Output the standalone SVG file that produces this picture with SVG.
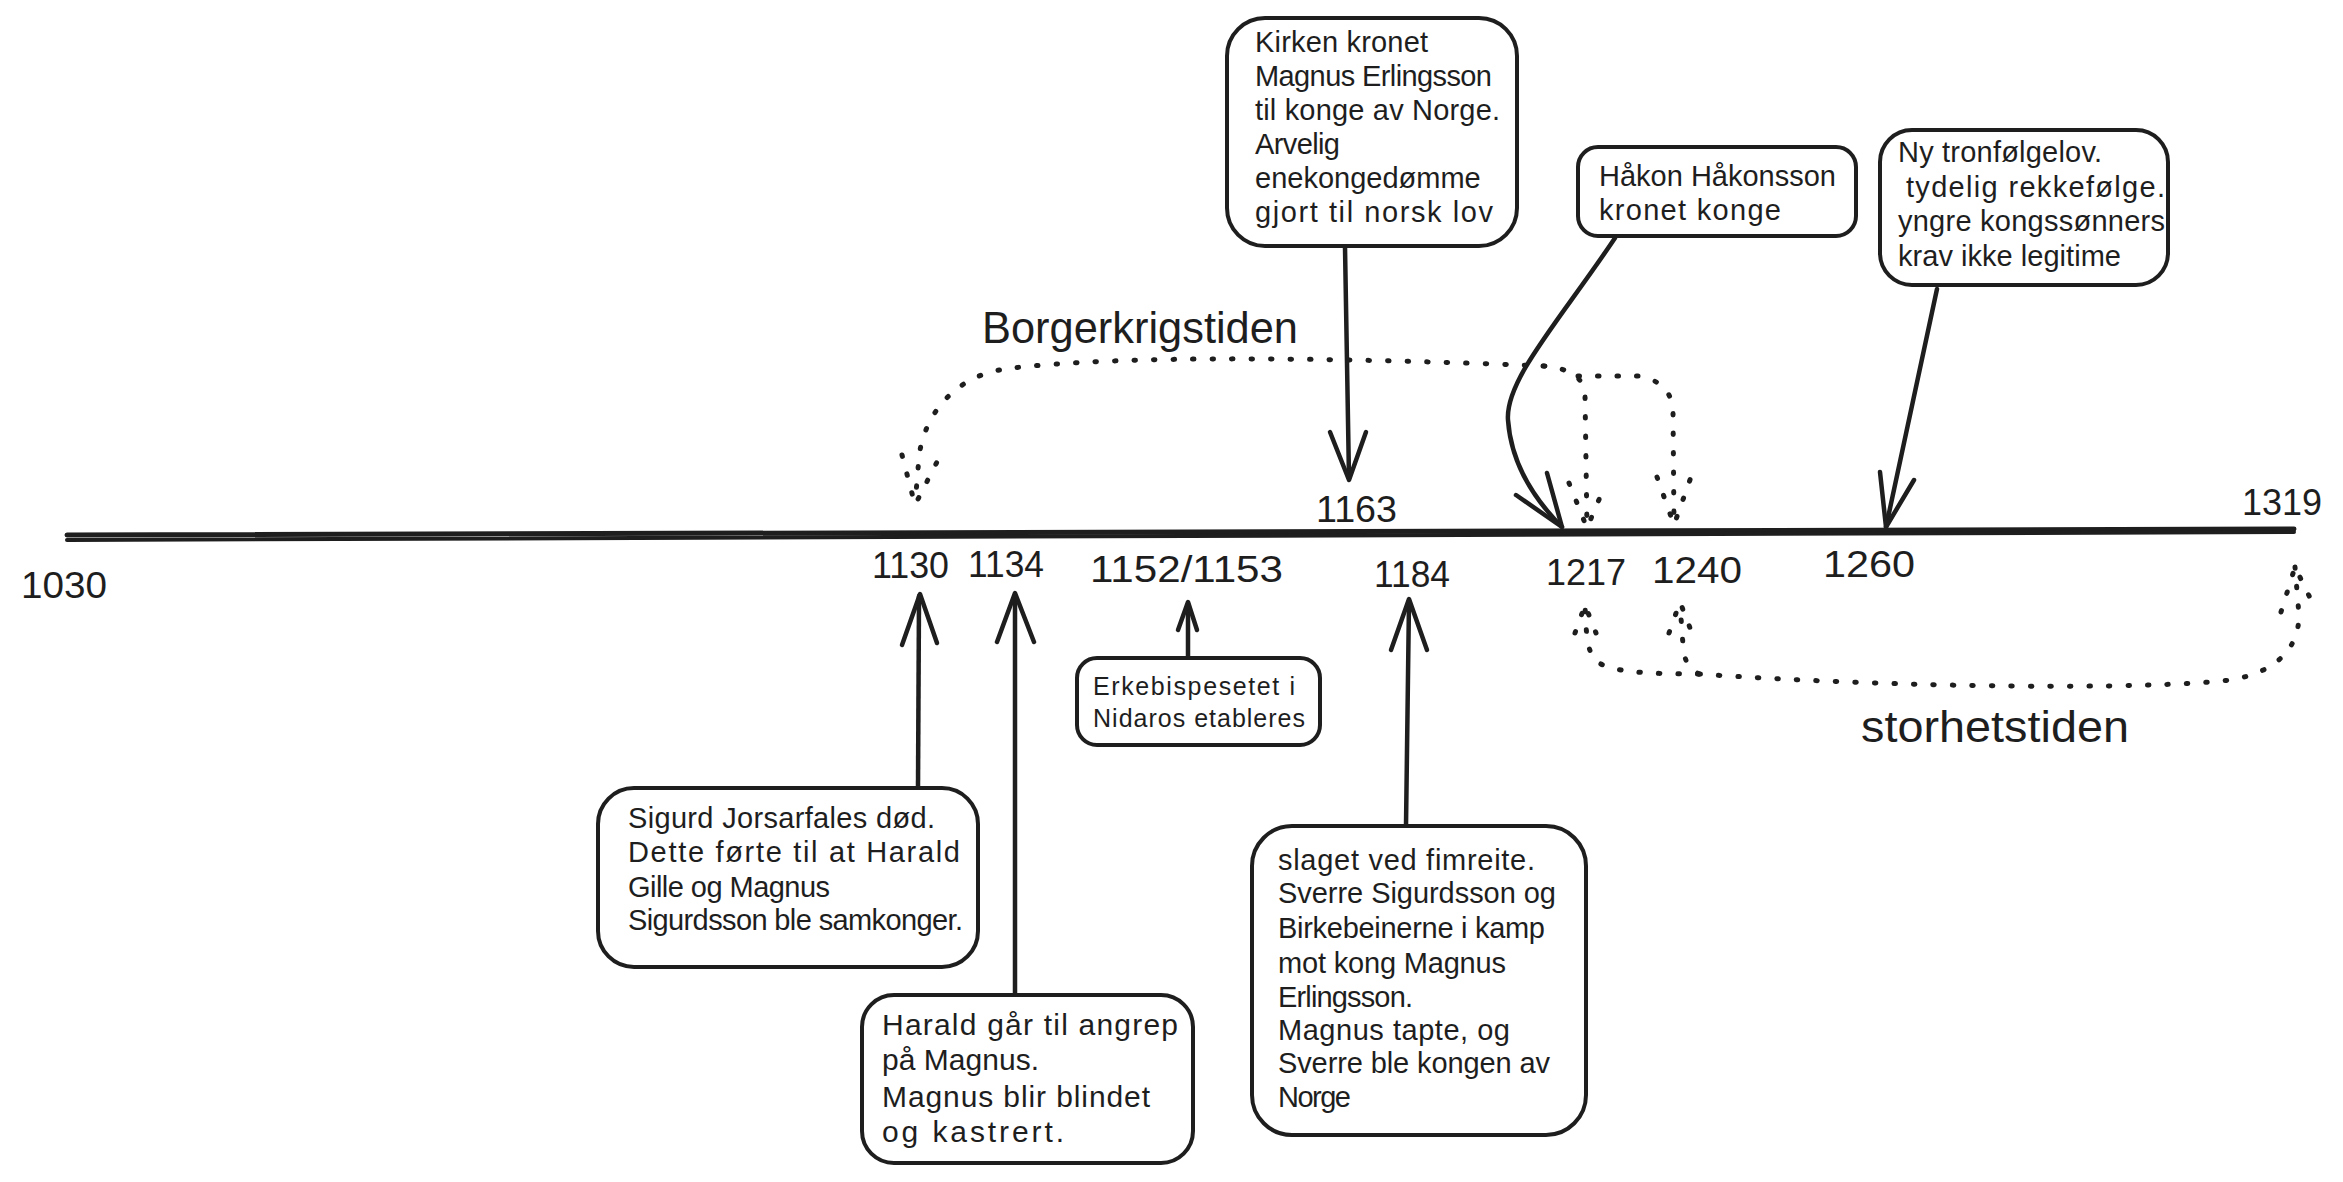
<svg xmlns="http://www.w3.org/2000/svg" width="2343" height="1182" viewBox="0 0 2343 1182">
<style>
  .bg { fill: #ffffff; }
  .box { fill: #ffffff; stroke: #1e1e1e; stroke-width: 4; }
  .ln { fill: none; stroke: #1e1e1e; stroke-width: 4.5; stroke-linecap: round; stroke-linejoin: round; }
  .dot { fill: none; stroke: #1e1e1e; stroke-width: 5; stroke-linecap: round; stroke-linejoin: round; stroke-dasharray: 1.5 18; }
  .t { font-family: "Liberation Sans", Arial, sans-serif; fill: #1e1e1e; }
  .yr { font-size: 36px; }
  .lbl { font-size: 44px; }
  .bt { font-size: 29px; }
</style>
<rect class="bg" x="0" y="0" width="2343" height="1182"/>

<g id="timeline">
  <line x1="67" y1="535" x2="2294" y2="529" stroke="#1e1e1e" stroke-width="5" stroke-linecap="round"/>
  <line x1="67" y1="540" x2="2294" y2="532" stroke="#1e1e1e" stroke-width="4" stroke-linecap="round"/>
</g>

<g id="years" class="t yr">
  <text x="21" y="598" textLength="86" lengthAdjust="spacingAndGlyphs">1030</text>
  <text x="872" y="578" textLength="77" lengthAdjust="spacingAndGlyphs">1130</text>
  <text x="968" y="577" textLength="76" lengthAdjust="spacingAndGlyphs">1134</text>
  <text x="1090" y="582" textLength="193" lengthAdjust="spacingAndGlyphs">1152/1153</text>
  <text x="1316" y="522" textLength="81" lengthAdjust="spacingAndGlyphs">1163</text>
  <text x="1374" y="587" textLength="76" lengthAdjust="spacingAndGlyphs">1184</text>
  <text x="1546" y="585" textLength="80" lengthAdjust="spacingAndGlyphs">1217</text>
  <text x="1652" y="583" textLength="90" lengthAdjust="spacingAndGlyphs">1240</text>
  <text x="1823" y="577" textLength="92" lengthAdjust="spacingAndGlyphs">1260</text>
  <text x="2242" y="515" textLength="80" lengthAdjust="spacingAndGlyphs">1319</text>
</g>

<g id="periods" class="t lbl">
  <text x="982" y="343" textLength="316" lengthAdjust="spacingAndGlyphs">Borgerkrigstiden</text>
  <text x="1861" y="742" textLength="268" lengthAdjust="spacingAndGlyphs">storhetstiden</text>
</g>

<g id="connectors">
  <path class="ln" d="M1345,247 L1349,478"/>
  <path class="ln" d="M1330,432 L1349,480 L1366,432"/>
  <path class="ln" d="M1615,238 C1560,320 1505,380 1508,420 C1511,462 1532,497 1562,527"/>
  <path class="ln" d="M1516,495 L1562,527 L1547,473"/>
  <path class="ln" d="M1937,289 L1886,527"/>
  <path class="ln" d="M1880,472 L1886,527 L1914,480"/>
  <path class="ln" d="M918,788 L919,596" stroke-width="5.5"/>
  <path class="ln" d="M902,645 L920,594 L937,643"/>
  <path class="ln" d="M1015,995 L1015,595"/>
  <path class="ln" d="M997,642 L1015,593 L1034,642"/>
  <path class="ln" d="M1188,658 L1188,604"/>
  <path class="ln" d="M1178,630 L1188,602 L1197,630"/>
  <path class="ln" d="M1406,826 L1409,601"/>
  <path class="ln" d="M1391,650 L1409,599 L1427,650"/>
  <path class="dot" d="M1545,366 C1350,358 1120,354 1005,369 C950,377 923,420 919,457 L915,505"/>
  <path class="dot" d="M902,455 L915,505 L938,460"/>
  <path class="dot" d="M1543,366 C1568,368 1584,376 1585,395 L1587,528"/>
  <path class="dot" d="M1569,483 L1587,528 L1606,483"/>
  <path class="dot" d="M1578,376 L1640,376 C1660,380 1672,392 1673,410 L1674,525"/>
  <path class="dot" d="M1657,477 L1674,525 L1691,477"/>
  <path class="dot" d="M1699,674 C1650,674 1610,672 1598,662 C1588,654 1587,640 1586,625 L1585,605"/>
  <path class="dot" d="M1575,633 L1585,605 L1596,633"/>
  <path class="dot" d="M1699,674 C1688,668 1684,660 1683,645 L1680,604"/>
  <path class="dot" d="M1669,633 L1680,602 L1692,633"/>
  <path class="dot" d="M1699,674 C1900,688 2150,690 2230,680 C2280,672 2299,645 2299,615 L2295,567"/>
  <path class="dot" d="M2281,612 L2295,567 L2316,610"/>
</g>

<g id="node-kirken">
  <rect class="box" x="1227" y="18" width="290" height="228" rx="38"/>
  <g class="t bt">
    <text x="1255" y="52" textLength="173" lengthAdjust="spacing">Kirken kronet</text>
    <text x="1255" y="86" textLength="237" lengthAdjust="spacing">Magnus Erlingsson</text>
    <text x="1255" y="120" textLength="245" lengthAdjust="spacing">til konge av Norge.</text>
    <text x="1255" y="154" textLength="85" lengthAdjust="spacing">Arvelig</text>
    <text x="1255" y="188">enekongedømme</text>
    <text x="1255" y="222" textLength="238" lengthAdjust="spacing">gjort til norsk lov</text>
  </g>
</g>

<g id="node-hakon">
  <rect class="box" x="1578" y="147" width="278" height="89" rx="20"/>
  <g class="t bt">
    <text x="1599" y="186" textLength="237" lengthAdjust="spacing">Håkon Håkonsson</text>
    <text x="1599" y="220" textLength="182" lengthAdjust="spacing">kronet konge</text>
  </g>
</g>

<g id="node-tronfolgelov">
  <rect class="box" x="1880" y="130" width="288" height="155" rx="32"/>
  <g class="t bt">
    <text x="1898" y="162" textLength="204" lengthAdjust="spacing">Ny tronfølgelov.</text>
    <text x="1906" y="197" textLength="259" lengthAdjust="spacing">tydelig rekkefølge.</text>
    <text x="1898" y="231" textLength="267" lengthAdjust="spacing">yngre kongssønners</text>
    <text x="1898" y="266" textLength="223" lengthAdjust="spacing">krav ikke legitime</text>
  </g>
</g>

<g id="node-erkebispesetet">
  <rect class="box" x="1077" y="658" width="243" height="87" rx="20"/>
  <g class="t" font-size="25">
    <text x="1093" y="695" textLength="202" lengthAdjust="spacing">Erkebispesetet i</text>
    <text x="1093" y="727" textLength="212" lengthAdjust="spacing">Nidaros etableres</text>
  </g>
</g>

<g id="node-sigurd">
  <rect class="box" x="598" y="788" width="380" height="179" rx="36"/>
  <g class="t bt">
    <text x="628" y="828" textLength="307" lengthAdjust="spacing">Sigurd Jorsarfales død.</text>
    <text x="628" y="862" textLength="332" lengthAdjust="spacing">Dette førte til at Harald</text>
    <text x="628" y="897" textLength="202" lengthAdjust="spacing">Gille og Magnus</text>
    <text x="628" y="930" textLength="335" lengthAdjust="spacing">Sigurdsson ble samkonger.</text>
  </g>
</g>

<g id="node-harald">
  <rect class="box" x="862" y="995" width="331" height="168" rx="32"/>
  <g class="t" font-size="30">
    <text x="882" y="1035" textLength="296" lengthAdjust="spacing">Harald går til angrep</text>
    <text x="882" y="1070" textLength="157" lengthAdjust="spacing">på Magnus.</text>
    <text x="882" y="1107" textLength="268" lengthAdjust="spacing">Magnus blir blindet</text>
    <text x="882" y="1142" textLength="182" lengthAdjust="spacing">og kastrert.</text>
  </g>
</g>

<g id="node-slaget">
  <rect class="box" x="1252" y="826" width="334" height="309" rx="40"/>
  <g class="t bt">
    <text x="1278" y="870" textLength="257" lengthAdjust="spacing">slaget ved fimreite.</text>
    <text x="1278" y="903" textLength="278" lengthAdjust="spacing">Sverre Sigurdsson og</text>
    <text x="1278" y="938" textLength="267" lengthAdjust="spacing">Birkebeinerne i kamp</text>
    <text x="1278" y="973" textLength="228" lengthAdjust="spacing">mot kong Magnus</text>
    <text x="1278" y="1007" textLength="135" lengthAdjust="spacing">Erlingsson.</text>
    <text x="1278" y="1040" textLength="232" lengthAdjust="spacing">Magnus tapte, og</text>
    <text x="1278" y="1073" textLength="272" lengthAdjust="spacing">Sverre ble kongen av</text>
    <text x="1278" y="1107" textLength="73" lengthAdjust="spacing">Norge</text>
  </g>
</g>
</svg>
